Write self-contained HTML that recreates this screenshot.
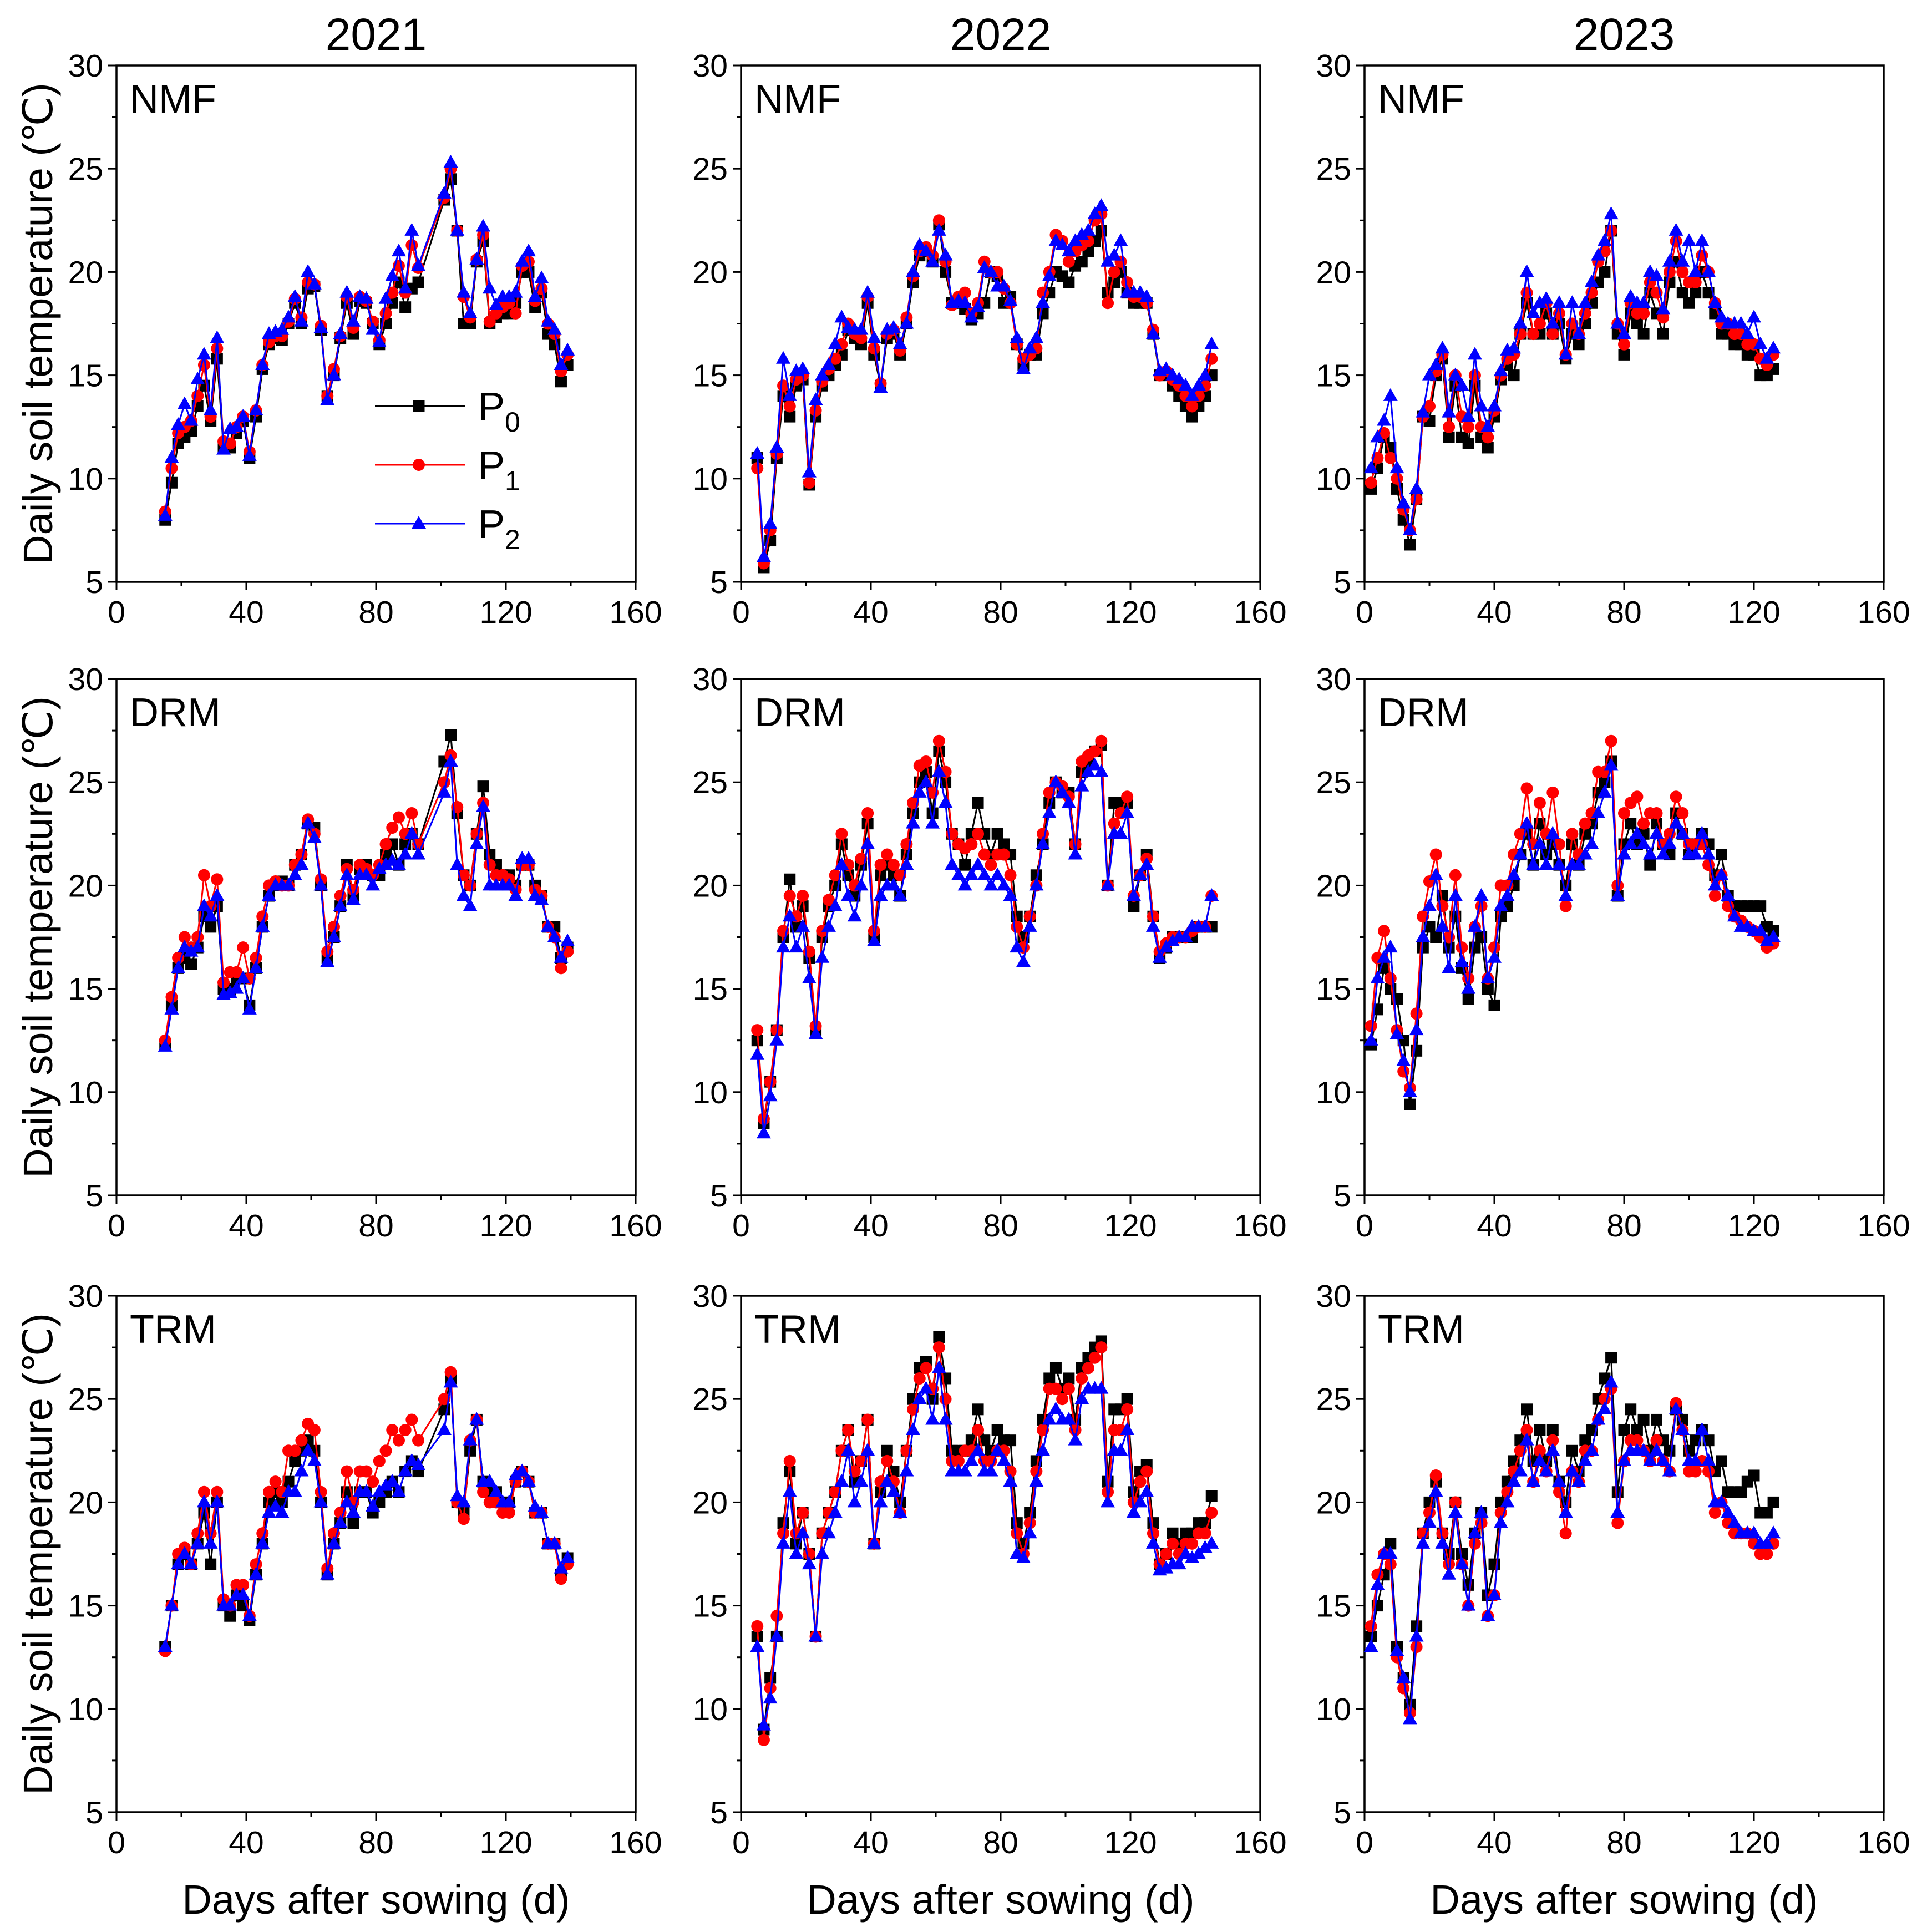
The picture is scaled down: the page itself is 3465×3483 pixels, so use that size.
<!DOCTYPE html>
<html><head><meta charset="utf-8"><style>
html,body{margin:0;padding:0;background:#fff;}
svg{display:block;font-family:"Liberation Sans",Arial,sans-serif;}
</style></head><body>
<svg id="fig" xmlns="http://www.w3.org/2000/svg" width="3465" height="3483" viewBox="0 0 3465 3483">
<rect width="3465" height="3483" fill="#fff"/>
</svg>
<script>
const days2021 = [15,17,19,21,23,25,27,29,31,33,35,37,39,41,43,45,47,49,51,53,55,57,59,61,63,65,67,69,71,73,75,77,79,81,83,85,87,89,91,93,101,103,105,107,109,111,113,115,117,119,121,123,125,127,129,131,133,135,137,139];
const days2022 = [5,7,9,11,13,15,17,19,21,23,25,27,29,31,33,35,37,39,41,43,45,47,49,51,53,55,57,59,61,63,65,67,69,71,73,75,77,79,81,83,85,87,89,91,93,95,97,99,101,103,105,107,109,111,113,115,117,119,121,123,125,127,129,131,133,135,137,139,141,143,145];
const days2023 = [2,4,6,8,10,12,14,16,18,20,22,24,26,28,30,32,34,36,38,40,42,44,46,48,50,52,54,56,58,60,62,64,66,68,70,72,74,76,78,80,82,84,86,88,90,92,94,96,98,100,102,104,106,108,110,112,114,116,118,120,122,124,126];

const yearLabels = ["2021","2022","2023"];
const treatmentLabels = ["NMF","DRM","TRM"];
const xTicks = [0,40,80,120,160];
const yTicks = [5,10,15,20,25,30];

const nmf2021P0 = [8.0,9.8,11.7,12.0,12.3,13.5,14.5,12.8,15.8,11.5,11.5,12.2,12.8,11.0,13.0,15.3,16.5,16.8,16.7,17.5,18.5,17.5,19.2,19.3,17.2,14.0,15.0,16.8,18.5,17.0,18.6,18.5,17.5,16.5,17.5,18.5,19.5,18.3,19.2,19.5,23.5,24.5,22.0,17.5,17.5,20.5,21.5,17.5,17.8,18.0,18.0,18.5,20.0,20.0,18.3,19.0,17.0,16.5,14.7,15.5];
const nmf2021P1 = [8.4,10.5,12.2,12.5,12.8,14.0,15.5,13.0,16.3,11.8,11.7,12.5,13.0,11.3,13.3,15.5,16.6,16.9,16.9,17.6,18.7,17.8,19.5,19.4,17.4,14.0,15.3,16.9,18.8,17.3,18.8,18.6,17.6,16.7,18.0,19.0,20.3,19.0,21.3,20.2,23.6,25.0,22.0,18.8,17.8,20.6,21.8,17.6,18.0,18.3,18.5,18.0,20.3,20.5,18.6,19.2,17.5,17.0,15.2,16.0];
const nmf2021P2 = [8.2,11.0,12.6,13.6,12.8,14.8,16.0,13.3,16.8,11.4,12.4,12.5,13.0,11.1,13.3,15.5,17.0,17.1,17.2,17.8,18.8,17.6,20.0,19.4,17.3,13.8,15.0,17.0,19.0,17.6,18.8,18.7,17.2,16.6,18.7,19.8,21.0,19.2,22.0,20.3,23.8,25.3,22.0,19.0,18.0,20.6,22.2,19.2,18.4,18.8,18.8,19.0,20.5,21.0,18.8,19.7,17.6,17.2,15.5,16.2];

const nmf2022P0 = [11.0,5.7,7.0,11.0,14.0,13.0,14.5,14.8,9.7,13.0,14.5,15.0,15.5,16.0,17.2,16.8,16.5,18.5,16.0,14.5,16.8,17.0,16.0,17.5,19.5,20.8,21.0,20.5,22.3,20.0,18.5,18.5,18.2,17.7,18.0,18.5,20.0,19.8,18.5,18.8,16.5,15.5,16.0,16.0,18.0,19.0,20.0,19.8,19.5,20.3,20.5,21.0,21.5,22.0,19.0,19.5,20.0,19.0,18.5,18.5,18.5,17.0,15.0,15.0,14.5,14.0,13.5,13.0,13.5,14.0,15.0];
const nmf2022P1 = [10.5,5.9,7.5,11.2,14.5,13.5,14.8,15.0,9.8,13.3,14.7,15.3,15.8,16.5,17.5,17.0,16.8,18.8,16.3,14.6,17.0,17.2,16.2,17.8,19.8,21.0,21.2,20.8,22.5,20.5,18.4,18.8,19.0,18.0,18.5,20.5,20.0,20.0,19.2,18.5,16.5,15.8,16.0,16.3,19.0,20.0,21.8,21.5,20.5,21.0,21.3,21.5,22.5,22.8,18.5,20.0,20.5,19.5,18.8,18.8,18.5,17.2,15.0,15.2,14.8,14.5,14.0,13.5,14.0,14.5,15.8];
const nmf2022P2 = [11.2,6.2,7.8,11.5,15.8,14.0,15.2,15.3,10.3,13.8,15.0,15.5,16.5,17.8,17.3,17.2,17.2,19.0,16.8,14.4,17.2,17.3,16.5,17.5,20.0,21.3,21.0,20.5,22.0,20.8,18.5,18.6,18.5,17.8,18.3,20.2,20.0,19.3,19.3,18.6,16.8,15.3,16.3,16.8,18.5,19.8,21.5,21.3,21.0,21.5,21.8,22.0,22.8,23.2,20.5,20.8,21.5,19.0,19.0,19.0,18.8,17.0,15.2,15.3,15.0,14.8,14.5,14.0,14.5,15.0,16.5];

const nmf2023P0 = [9.5,10.5,12.0,11.5,9.5,8.0,6.8,9.0,13.0,12.8,15.0,15.8,12.0,14.5,12.0,11.7,14.5,12.0,11.5,13.0,14.8,15.5,15.0,17.0,18.5,17.0,17.0,18.0,17.0,17.5,15.8,17.0,16.5,17.5,18.5,19.5,20.0,22.0,17.0,16.0,18.0,17.5,17.0,19.0,18.0,17.0,19.5,20.5,19.0,18.5,19.0,20.0,19.0,18.0,17.0,17.0,16.5,16.5,16.0,16.0,15.0,15.0,15.3];
const nmf2023P1 = [9.8,11.0,12.2,11.0,10.0,8.5,7.5,9.0,13.0,13.5,15.2,16.0,12.5,15.0,13.0,12.5,15.0,12.5,12.0,13.3,15.0,15.8,16.0,17.0,19.0,17.0,17.5,18.5,17.0,18.0,16.0,17.5,17.0,18.0,19.0,20.5,21.0,22.0,17.5,16.5,18.5,18.0,18.0,19.5,19.0,17.8,20.0,21.5,20.0,19.5,19.5,20.8,20.0,18.5,17.5,17.5,17.0,17.0,16.5,16.5,15.8,15.5,16.0];
const nmf2023P2 = [10.5,12.0,12.8,14.0,10.5,8.8,7.5,9.5,13.2,15.0,15.5,16.3,13.2,15.0,14.5,13.0,16.0,13.5,12.5,13.5,15.2,16.2,16.3,17.5,20.0,18.0,18.5,18.7,17.5,18.5,16.0,18.5,17.0,18.5,19.5,20.8,21.5,22.8,17.5,17.0,18.8,18.5,18.5,20.0,19.8,18.2,20.5,22.0,20.5,21.5,20.0,21.5,20.0,18.5,17.8,17.5,17.5,17.5,17.0,17.8,16.5,15.8,16.3];

const drm2021P0 = [12.3,14.2,16.0,16.5,16.2,17.0,18.5,18.0,19.0,15.0,15.0,15.5,15.5,14.2,16.0,18.0,19.5,20.0,20.2,20.0,21.0,21.5,23.0,22.8,20.0,16.5,17.5,19.0,21.0,19.5,20.8,21.0,20.5,20.5,21.5,22.0,21.0,22.0,22.5,22.0,26.0,27.3,23.5,20.5,20.0,22.5,24.8,21.5,21.0,20.5,20.5,20.0,21.0,21.0,20.0,19.5,18.0,18.0,16.5,17.0];
const drm2021P1 = [12.5,14.6,16.5,17.5,17.0,17.5,20.5,19.0,20.3,15.3,15.8,15.8,17.0,15.5,16.5,18.5,20.0,20.2,20.0,20.0,21.0,21.5,23.2,22.5,20.3,16.8,18.0,19.5,20.8,19.8,21.0,20.8,20.5,21.0,22.0,22.8,23.3,22.5,23.5,22.0,25.0,26.3,23.8,20.5,20.0,22.5,24.0,21.0,20.5,20.5,20.3,19.8,21.0,21.0,19.8,19.5,18.0,17.5,16.0,16.8];
const drm2021P2 = [12.2,14.0,16.0,17.0,16.8,17.0,19.0,18.5,19.5,14.7,14.8,15.0,15.5,14.0,16.0,18.0,19.5,20.0,20.0,20.0,20.5,21.0,23.0,22.3,20.0,16.3,17.5,19.0,20.5,19.3,20.5,20.5,20.0,20.8,21.0,21.2,21.0,21.5,22.5,21.5,24.5,26.0,21.0,19.5,19.0,22.0,23.8,20.0,20.0,20.0,20.0,19.5,21.3,21.3,19.5,19.3,18.0,17.5,16.5,17.3];

const drm2022P0 = [12.5,8.5,10.5,13.0,17.5,20.3,18.0,19.0,16.5,13.0,17.5,19.0,20.0,22.0,20.5,19.5,21.0,23.0,17.5,20.5,21.0,20.5,19.5,21.5,23.5,25.0,25.5,23.5,26.5,25.0,22.5,22.0,21.0,22.5,24.0,22.5,21.5,22.5,22.0,21.5,18.5,17.5,18.5,20.5,22.0,24.0,25.0,24.5,24.5,22.0,25.5,26.0,26.5,26.8,20.0,24.0,24.0,24.0,19.0,20.5,21.5,18.5,16.5,17.0,17.5,17.5,17.5,17.5,18.0,18.0,18.0];
const drm2022P1 = [13.0,8.7,10.5,13.0,17.8,19.5,18.5,19.5,16.8,13.2,17.8,19.3,20.5,22.5,21.0,20.0,21.3,23.5,17.8,21.0,21.5,21.0,20.5,22.0,24.0,25.8,26.0,24.5,27.0,25.5,22.5,22.0,21.8,22.0,22.5,21.5,21.0,21.5,21.5,20.5,18.0,17.0,18.5,20.0,22.5,24.5,25.0,24.8,24.3,22.0,26.0,26.3,26.5,27.0,20.0,23.0,23.5,24.3,19.5,20.5,21.3,18.5,16.8,17.2,17.5,17.5,17.5,17.8,18.0,18.0,19.5];
const drm2022P2 = [11.8,8.0,9.8,12.5,17.0,18.5,17.0,18.0,15.5,12.8,16.5,18.0,19.0,21.0,19.5,18.5,20.0,22.0,17.3,19.5,20.0,20.0,19.5,21.0,23.0,24.5,25.0,23.0,25.5,24.0,21.0,20.5,20.0,20.5,21.0,20.5,20.0,20.5,20.0,19.5,17.0,16.3,18.0,20.0,22.0,23.5,25.0,24.5,24.0,21.5,24.8,25.5,25.8,25.5,20.0,22.5,22.5,23.5,19.5,20.5,21.0,18.0,16.5,17.0,17.3,17.5,17.5,18.0,18.0,18.0,19.5];

const drm2023P0 = [12.3,14.0,16.0,15.0,14.5,12.5,9.4,12.0,17.0,18.0,17.5,19.5,17.0,18.5,16.0,14.5,17.0,17.5,15.0,14.2,18.5,19.0,20.0,21.5,22.5,21.0,23.0,21.5,22.0,21.0,20.0,22.0,21.0,22.5,23.0,24.5,25.0,26.0,19.5,22.0,23.0,22.0,22.5,21.0,23.0,22.0,21.5,23.5,22.5,21.5,22.0,22.5,22.0,20.5,21.5,19.5,19.0,19.0,19.0,19.0,19.0,18.0,17.8];
const drm2023P1 = [13.2,16.5,17.8,15.5,13.0,11.0,10.2,13.8,18.5,20.2,21.5,19.0,17.5,20.5,17.0,15.5,18.0,19.0,15.5,17.0,20.0,20.0,21.5,22.5,24.7,22.0,24.0,22.5,24.5,22.0,19.0,22.5,21.5,23.0,23.5,25.5,25.5,27.0,20.0,23.5,24.0,24.3,23.0,23.5,23.5,22.0,22.5,24.3,23.5,22.0,22.0,22.0,21.0,19.5,20.5,19.0,18.5,18.3,18.0,17.8,17.5,17.0,17.2];
const drm2023P2 = [12.5,15.5,16.5,17.0,12.8,11.5,10.0,13.0,17.5,19.0,20.5,18.0,16.0,19.5,16.3,15.0,18.0,19.5,15.5,16.5,19.0,19.5,20.5,21.5,23.0,21.0,22.0,21.0,22.5,21.0,19.5,21.0,21.0,21.5,22.0,23.5,24.5,25.8,19.5,21.5,22.0,22.5,22.0,21.5,22.5,21.5,22.0,23.0,22.5,21.5,21.5,22.5,21.5,20.0,20.5,19.5,18.5,18.0,18.0,17.8,17.8,17.3,17.5];

const trm2021P0 = [13.0,15.0,17.0,17.5,17.0,18.0,19.5,17.0,20.0,15.0,14.5,15.5,15.0,14.3,16.5,18.0,20.0,20.5,20.0,21.0,22.0,22.5,23.0,22.5,20.0,16.5,18.0,19.0,20.5,19.0,20.5,20.5,19.5,20.0,20.5,21.0,20.5,21.5,22.0,21.5,24.5,26.0,20.0,19.5,22.5,24.0,21.0,20.5,20.5,20.0,20.0,21.0,21.5,21.0,19.5,19.5,18.0,18.0,16.5,17.3];
const trm2021P1 = [12.8,15.0,17.5,17.8,17.0,18.5,20.5,18.5,20.5,15.3,15.0,16.0,16.0,14.5,17.0,18.5,20.5,21.0,20.5,22.5,22.5,23.0,23.8,23.5,20.5,16.8,18.5,19.5,21.5,20.0,21.5,21.5,21.0,22.0,22.5,23.5,23.0,23.5,24.0,23.0,25.0,26.3,20.0,19.2,23.0,24.0,20.5,20.0,20.0,19.5,19.5,21.0,21.5,21.0,19.5,19.5,18.0,18.0,16.3,17.0];
const trm2021P2 = [13.0,15.0,17.0,17.5,17.0,18.0,20.0,18.0,20.0,15.0,15.0,15.5,15.5,14.5,16.5,18.0,19.5,19.8,19.5,20.5,20.5,21.5,22.5,22.0,20.0,16.5,18.0,19.0,20.0,19.5,20.5,20.5,19.8,20.5,20.8,21.0,20.5,21.5,22.0,21.8,23.5,25.8,20.3,20.0,23.0,24.0,21.0,21.0,20.5,20.0,20.0,21.3,21.5,21.0,19.8,19.5,18.0,18.0,16.8,17.3];

const trm2022P0 = [13.5,9.0,11.5,13.5,19.0,21.5,18.0,19.5,17.5,13.5,18.5,19.5,20.5,22.5,23.5,21.0,22.0,24.0,18.0,20.5,22.5,21.5,20.0,22.5,25.0,26.5,26.8,25.0,28.0,26.0,22.5,22.5,22.5,23.0,24.5,23.0,22.5,23.5,23.0,23.0,19.0,18.0,19.5,22.0,24.0,26.0,26.5,25.5,26.0,24.0,26.5,27.0,27.5,27.8,21.0,24.5,24.5,25.0,20.5,21.5,21.8,19.0,17.0,17.5,18.5,18.0,18.5,18.5,19.0,19.0,20.3];
const trm2022P1 = [14.0,8.5,11.0,14.5,18.5,22.0,18.5,19.5,17.5,13.5,18.5,19.5,20.5,22.5,23.5,21.5,22.0,24.0,18.0,21.0,22.0,21.0,19.5,22.5,24.5,26.0,26.5,25.5,27.5,25.0,22.0,22.0,22.5,22.5,23.5,22.0,22.0,22.5,22.5,21.5,18.5,17.5,19.0,21.5,23.5,25.5,25.5,25.0,25.5,23.5,26.0,26.5,27.0,27.5,20.5,23.5,23.5,24.5,20.0,21.0,21.5,18.5,17.0,17.5,18.0,17.5,18.0,18.0,18.5,18.5,19.5];
const trm2022P2 = [13.0,9.2,10.5,13.5,18.0,20.5,17.5,18.5,17.0,13.5,17.5,18.5,19.5,21.0,22.5,20.0,21.0,22.5,18.0,20.0,21.0,20.5,19.5,21.5,23.5,25.0,25.5,24.0,26.5,24.0,21.5,21.5,21.5,22.0,22.5,21.5,21.5,22.5,22.0,21.0,17.5,17.3,18.5,21.0,22.5,24.0,24.5,24.0,24.0,23.0,25.0,25.5,25.5,25.5,20.0,22.5,22.5,23.5,19.5,20.0,20.5,18.0,16.7,16.8,17.0,17.0,17.5,17.3,17.5,17.8,18.0];

const trm2023P0 = [13.5,15.0,16.5,18.0,13.0,11.5,10.2,14.0,18.5,20.0,21.0,18.5,17.5,20.0,17.5,16.0,18.5,19.5,15.5,17.0,20.0,21.0,22.0,23.0,24.5,22.0,23.5,22.0,23.5,21.0,20.0,22.5,21.5,23.0,23.5,25.0,26.0,27.0,20.5,23.5,24.5,23.5,24.0,22.5,24.0,23.0,22.5,24.5,24.0,22.5,23.0,23.5,23.0,21.5,22.0,20.5,20.5,20.5,21.0,21.3,19.5,19.5,20.0];
const trm2023P1 = [14.0,16.5,17.5,17.0,12.5,11.0,9.8,13.0,18.5,19.5,21.3,18.5,17.0,20.0,17.0,15.0,18.0,19.0,14.5,15.5,19.5,20.5,21.5,22.5,23.5,21.0,22.5,21.5,23.0,20.5,18.5,21.5,21.0,22.5,22.5,24.0,25.0,25.5,19.0,22.0,23.0,23.0,22.5,22.0,23.0,22.0,21.5,24.8,23.5,21.5,21.5,22.0,21.5,19.5,20.0,19.0,18.5,18.5,18.5,18.0,17.5,17.5,18.0];
const trm2023P2 = [13.0,16.0,17.5,17.5,12.8,11.5,9.5,13.5,18.0,19.0,20.5,18.0,16.5,19.5,17.0,15.0,18.5,19.5,14.5,15.5,19.0,20.0,21.0,21.5,23.0,21.0,22.0,21.5,22.5,21.0,19.5,21.5,21.0,22.0,22.5,24.0,24.5,25.8,19.5,22.0,22.5,22.5,22.5,22.0,22.5,22.0,21.5,24.5,23.5,22.0,22.0,23.5,22.0,20.0,20.0,19.5,19.0,18.5,18.5,18.5,18.0,18.0,18.5];

const NS = "http://www.w3.org/2000/svg";
const svg = document.getElementById("fig");
const colX = [210, 1336, 2460];
const rowY = [118, 1224, 2336];
const PW = 936, PH = 931;
const XMIN = 0, XMAX = 160, YMIN = 5, YMAX = 30;

function mk(tag, attrs, parent) {
  const e = document.createElementNS(NS, tag);
  for (const k in attrs) e.setAttribute(k, attrs[k]);
  (parent || svg).appendChild(e);
  return e;
}
function xScale(c, v) { return colX[c] + (v - XMIN) / (XMAX - XMIN) * PW; }
function yScale(r, v) { return rowY[r] + PH - (v - YMIN) / (YMAX - YMIN) * PH; }

const panels = [
  [[days2021, nmf2021P0, nmf2021P1, nmf2021P2], [days2022, nmf2022P0, nmf2022P1, nmf2022P2], [days2023, nmf2023P0, nmf2023P1, nmf2023P2]],
  [[days2021, drm2021P0, drm2021P1, drm2021P2], [days2022, drm2022P0, drm2022P1, drm2022P2], [days2023, drm2023P0, drm2023P1, drm2023P2]],
  [[days2021, trm2021P0, trm2021P1, trm2021P2], [days2022, trm2022P0, trm2022P1, trm2022P2], [days2023, trm2023P0, trm2023P1, trm2023P2]]
];
const colors = ["#000000", "#ff0000", "#0000ff"];
const seriesNames = ["p0", "p1", "p2"];

function marker(g, kind, x, y, color) {
  let m;
  if (kind === 0) m = mk("rect", {x: x - 10.5, y: y - 10.5, width: 21, height: 21, fill: color}, g);
  else if (kind === 1) m = mk("circle", {cx: x, cy: y, r: 11, fill: color}, g);
  else m = mk("polygon", {points: `${x},${y - 14} ${x - 13},${y + 9} ${x + 13},${y + 9}`, fill: color}, g);
  return m;
}

for (let r = 0; r < 3; r++) {
  for (let c = 0; c < 3; c++) {
    const g = mk("g", {});
    
    
    const x0 = colX[c], y0 = rowY[r];
    const fr = mk("rect", {x: x0, y: y0, width: PW, height: PH, fill: "none", stroke: "#000", "stroke-width": 3.5}, g);
    
    
    for (let v = 5; v <= 30; v += 2.5) {
      const yy = yScale(r, v);
      const major = (v % 5 === 0);
      mk("line", {x1: x0, x2: x0 - (major ? 15 : 8), y1: yy, y2: yy, stroke: "#000", "stroke-width": 3}, g);
    }
    for (const v of yTicks) {
      const t = mk("text", {x: x0 - 24, y: yScale(r, v) + 20, "font-size": 57, "text-anchor": "end", fill: "#000"}, g);
      t.textContent = v;
      
      
    }
    for (let v = 0; v <= 160; v += 20) {
      const xx = xScale(c, v);
      const major = (v % 40 === 0);
      mk("line", {x1: xx, x2: xx, y1: y0 + PH, y2: y0 + PH + (major ? 15 : 8), stroke: "#000", "stroke-width": 3}, g);
    }
    for (const v of xTicks) {
      const t = mk("text", {x: xScale(c, v), y: y0 + PH + 74, "font-size": 57, "text-anchor": "middle", fill: "#000"}, g);
      t.textContent = v;
      
      
    }
    const pl = mk("text", {x: x0 + 24, y: y0 + 85, "font-size": 72, fill: "#000"}, g);
    pl.textContent = treatmentLabels[r];
    
    
    const d = panels[r][c];
    const days = d[0];
    for (let s = 0; s < 3; s++) {
      const vals = d[s + 1];
      const sg = mk("g", {}, g);
      
      
      let pts = [];
      for (let i = 0; i < days.length && i < vals.length; i++) pts.push(xScale(c, days[i]).toFixed(1) + "," + yScale(r, vals[i]).toFixed(1));
      const pl2 = mk("polyline", {points: pts.join(" "), fill: "none", stroke: colors[s], "stroke-width": 3}, sg);
      
      
      for (let i = 0; i < days.length && i < vals.length; i++) {
        const m = marker(sg, s, xScale(c, days[i]), yScale(r, vals[i]), colors[s]);
        
        
      }
    }
  }
}

for (let c = 0; c < 3; c++) {
  const t = mk("text", {x: colX[c] + PW / 2, y: 90, "font-size": 82, "text-anchor": "middle", fill: "#000"});
  t.textContent = yearLabels[c];
  
  
  const xt = mk("text", {x: colX[c] + PW / 2, y: 3450, "font-size": 74, "text-anchor": "middle", fill: "#000"});
  xt.textContent = "Days after sowing (d)";
  
  
}
for (let r = 0; r < 3; r++) {
  const cy = rowY[r] + PH / 2;
  const t = mk("text", {x: 0, y: 0, "font-size": 74, "text-anchor": "middle", fill: "#000", transform: `translate(94,${cy}) rotate(-90)`});
  t.textContent = "Daily soil temperature (\u2103)";
  
  
}
const lg = mk("g", {});


const legY = [732, 838, 944];
for (let s = 0; s < 3; s++) {
  const eg = mk("g", {}, lg);
  
  
  mk("line", {x1: 676, x2: 839, y1: legY[s], y2: legY[s], stroke: colors[s], "stroke-width": 3}, eg);
  marker(eg, s, 755, legY[s], colors[s]);
  const t = mk("text", {x: 862, y: legY[s] + 26, "font-size": 72, fill: "#000"}, eg);
  t.textContent = "P";
  const sub = mk("tspan", {dy: 20, "font-size": 50}, t);
  sub.textContent = String(s);
}
</script>
</body></html>
